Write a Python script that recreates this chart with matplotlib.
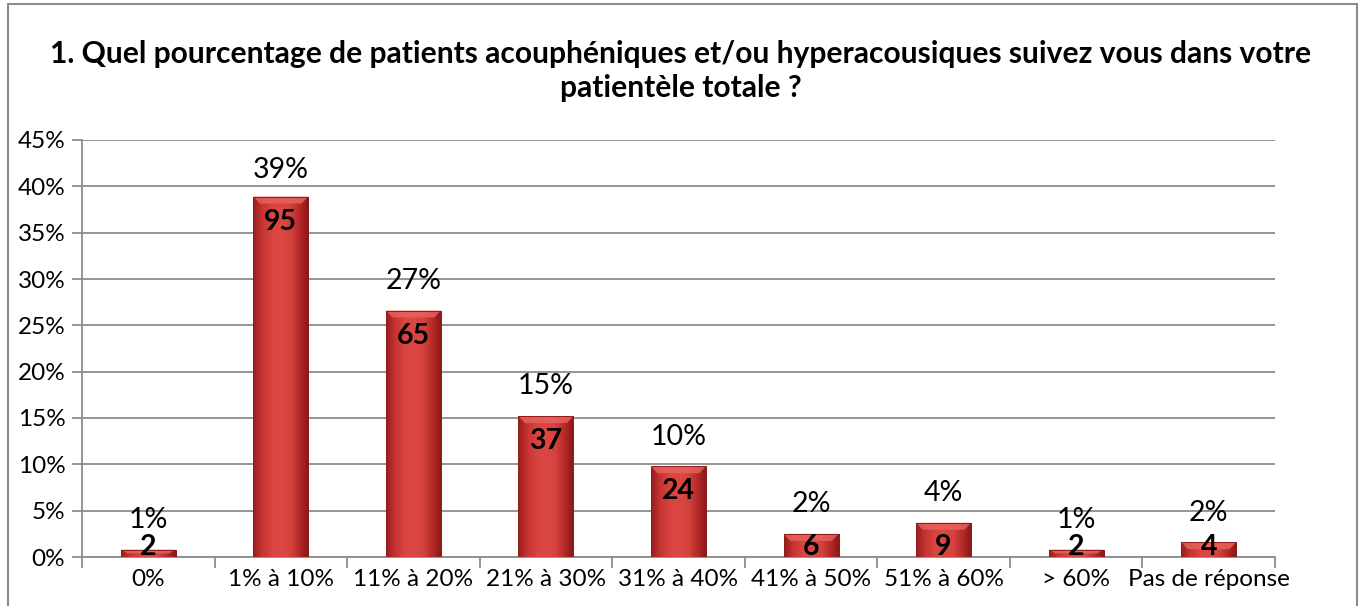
import numpy as np
import matplotlib
matplotlib.use("Agg")
import matplotlib.pyplot as plt
from matplotlib.patches import Rectangle, Polygon
from matplotlib.colors import LinearSegmentedColormap

categories = ["0%", "1% à 10%", "11% à 20%", "21% à 30%", "31% à 40%",
              "41% à 50%", "51% à 60%", "> 60%", "Pas de réponse"]
counts = [2, 95, 65, 37, 24, 6, 9, 2, 4]
percent_values = [0.8, 38.9, 26.6, 15.2, 9.8, 2.5, 3.7, 0.8, 1.6]
percent_labels = ["1%", "39%", "27%", "15%", "10%", "2%", "4%", "1%", "2%"]
yticks = [0, 5, 10, 15, 20, 25, 30, 35, 40, 45]
title = ("1. Quel pourcentage de patients acouphéniques et/ou hyperacousiques suivez vous dans votre\n"
         "patientèle totale ?")

plt.rcParams['font.family'] = ['Lato', 'DejaVu Sans']

W, H = 1362, 606
fig = plt.figure(figsize=(W / 100, H / 100), dpi=100)
ax = fig.add_axes([82 / W, 1 - 557 / H, (1275 - 82) / W, (557 - 140) / H])

x = np.arange(len(categories))
bw = 0.415
bars = ax.bar(x, percent_values, width=bw, color="#c93a36", zorder=3,
              edgecolor="#8e1c1c", linewidth=0.6)

# horizontal gradient (darker edges, lighter center) clipped to each bar
cmap = LinearSegmentedColormap.from_list(
    "barg", ["#981d1d", "#c63431", "#d8443f", "#db4843", "#d6433f", "#b42a28", "#861616"])
grad = np.linspace(0, 1, 256).reshape(1, -1)
px_per_unit = (557 - 140) / 45.0
bev = 7 / px_per_unit  # bevel height in data units
for b in bars:
    x0, y0 = b.get_x(), b.get_y()
    w, h = b.get_width(), b.get_height()
    im = ax.imshow(grad, cmap=cmap, aspect="auto", extent=[x0, x0 + w, y0, y0 + h],
                   zorder=3.1, interpolation="bicubic")
    im.set_clip_path(b)
    bh = min(bev, h * 0.5)
    inset = w * 0.12
    top = y0 + h
    ax.add_patch(Polygon([(x0, top), (x0 + w, top), (x0 + w - inset, top - bh),
                          (x0 + inset, top - bh)], closed=True,
                         facecolor="#e9645f", alpha=0.8, edgecolor="none", zorder=3.2))
    ax.add_patch(Rectangle((x0, y0), w, h, facecolor="none",
                           edgecolor="#8e1c1c", linewidth=0.7, zorder=3.3))

ax.set_xlim(-0.5, len(categories) - 0.5)
ax.set_ylim(0, 45)
ax.set_yticks(yticks)
ax.set_yticklabels([f"{v}%" for v in yticks], fontsize=17.5)
ax.set_xticks(x)
ax.set_xticklabels(categories, fontsize=17.5)
ax.tick_params(axis="x", length=0, pad=9)
ax.set_xticks(np.arange(-0.5, len(categories)), minor=True)
ax.tick_params(axis="x", which="minor", length=8, color="#8c8c8c", width=1.3)
ax.tick_params(axis="y", length=7, color="#8c8c8c", width=1.3, pad=5)
ax.grid(axis="y", color="#8c8c8c", linewidth=1.3, zorder=0)
ax.set_axisbelow(True)
for s in ["top", "right"]:
    ax.spines[s].set_visible(False)
for s in ["left", "bottom"]:
    ax.spines[s].set_color("#8c8c8c")
    ax.spines[s].set_linewidth(1.3)

for xi, p, lab, c in zip(x, percent_values, percent_labels, counts):
    ax.text(xi, min(p + 3.2, 41.8), lab, ha="center", va="center", fontsize=20.5,
            color="black", zorder=5)
    ax.text(xi, max(p - 2.7, 1.05), str(c), ha="center", va="center", fontsize=20.5,
            fontweight="bold", color="black", zorder=5)

fig.text(0.5, 1 - 71 / H, title, ha="center", va="center", fontsize=21.6,
         fontweight="bold", linespacing=1.3)

fig.patches.append(Rectangle((8 / W, -0.05), (1357 - 8) / W, 1.05 - 4 / H,
                             transform=fig.transFigure, fill=False,
                             edgecolor="#8c8c8c", linewidth=1.5))

fig.savefig("out.png", dpi=100)
